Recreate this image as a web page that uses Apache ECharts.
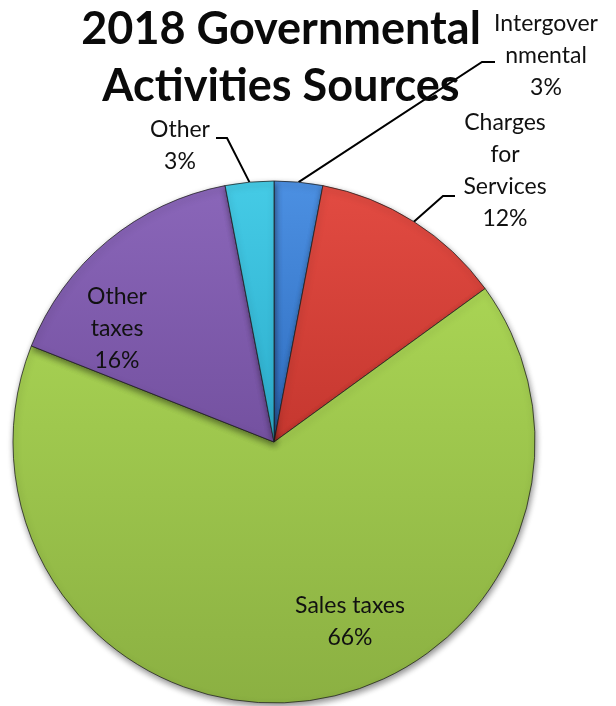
<!DOCTYPE html>
<html>
<head>
<meta charset="utf-8">
<style>
  html, body { margin: 0; padding: 0; background: #ffffff; }
  #chart { width: 616px; height: 706px; }
</style>
<script src="https://cdn.jsdelivr.net/npm/echarts@6/dist/echarts.min.js"></script>
</head>
<body>
<div id="chart"></div>
<script>
// Revenue sources for 2018 governmental activities (percent of total)
const categories = ['Intergovernmental', 'Charges for Services', 'Sales taxes', 'Other taxes', 'Other'];
const shares = [3, 12, 66, 16, 3];

// How each category name is broken over lines in its label
const labelNames = {
  'Intergovernmental': 'Intergover\nnmental',
  'Charges for Services': 'Charges\nfor\nServices',
  'Sales taxes': 'Sales taxes',
  'Other taxes': 'Other\ntaxes',
  'Other': 'Other'
};

// Slice fills: lighter top, darker bottom
const sliceColors = {
  'Intergovernmental': ['#4c90e2', '#2f6dbf'],
  'Charges for Services': ['#e24b42', '#c5372f'],
  'Sales taxes': ['#a9d454', '#8bb042'],
  'Other taxes': ['#8a66b9', '#7451a0'],
  'Other': ['#45cbe6', '#2cadcc']
};

// Label placement: centre of the text block, plus the short horizontal stub of the leader line
const labelPlacement = {
  'Intergovernmental': { x: 546, y: 56, stub: [[482, 62], [495, 62]] },
  'Charges for Services': { x: 505, y: 171, stub: [[443, 196], [455, 196]] },
  'Sales taxes': { x: 350, y: 622 },
  'Other taxes': { x: 117, y: 329 },
  'Other': { x: 180, y: 146, stub: [[227, 138], [216, 138]] }
};

const pieCenter = [274, 442];
const pieRadius = 261;

const chart = echarts.init(document.getElementById('chart'), null, { renderer: 'canvas' });

const data = categories.map((name, i) => {
  const c = sliceColors[name];
  const outside = !!labelPlacement[name].stub;
  return {
    name: name,
    value: shares[i],
    itemStyle: {
      color: new echarts.graphic.LinearGradient(0, 0, 0, 1, [
        { offset: 0, color: c[0] },
        { offset: 1, color: c[1] }
      ])
    },
    label: { position: outside ? 'outside' : 'inside' },
    labelLine: { show: outside }
  };
});

chart.setOption({
  animation: false,
  title: {
    text: '2018 Governmental\nActivities Sources',
    left: 276,
    top: -4,
    textAlign: 'center',
    textStyle: {
      fontFamily: 'Lato',
      fontWeight: 'bold',
      fontSize: 45,
      lineHeight: 57,
      color: '#0a0a0a'
    }
  },
  series: [{
    type: 'pie',
    center: pieCenter,
    radius: pieRadius,
    startAngle: 90,
    clockwise: true,
    data: data,
    itemStyle: {
      borderColor: 'rgba(30,30,30,0.75)',
      borderWidth: 1,
      shadowColor: 'rgba(0,0,0,0.45)',
      shadowBlur: 6,
      shadowOffsetX: 1,
      shadowOffsetY: 3
    },
    label: {
      formatter: p => labelNames[p.name] + '\n' + p.percent + '%',
      fontFamily: 'Lato',
      fontSize: 23,
      lineHeight: 32,
      color: '#111111',
      align: 'center',
      overflow: 'none'
    },
    labelLine: {
      lineStyle: { color: '#000000', width: 2 }
    },
    labelLayout: function (params) {
      const name = categories[params.dataIndex];
      const place = labelPlacement[name];
      const out = {
        x: place.x,
        y: place.y,
        align: 'center',
        verticalAlign: 'middle'
      };
      if (place.stub && params.labelLinePoints) {
        out.labelLinePoints = [params.labelLinePoints[0], place.stub[0], place.stub[1]];
      }
      return out;
    }
  }]
});
</script>
</body>
</html>
